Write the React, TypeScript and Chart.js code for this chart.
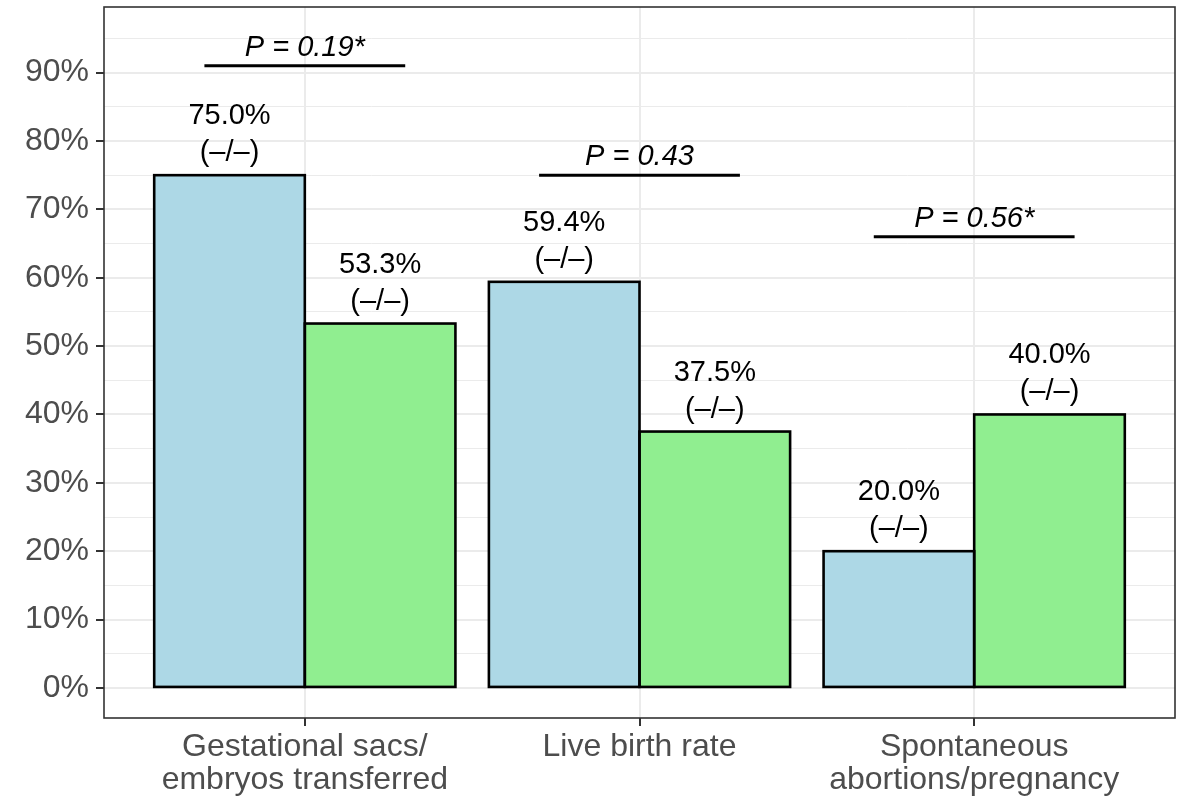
import React, { useEffect, useRef } from 'react';
import { Chart, registerables } from 'chart.js';

Chart.register(...registerables);

const categories: string[][] = [
  ['Gestational sacs/', 'embryos transferred'],
  ['Live birth rate'],
  ['Spontaneous', 'abortions/pregnancy'],
];
const categoryPositions = [1, 2, 3];
const group1Values = [75.0, 59.4, 20.0];
const group2Values = [53.3, 37.5, 40.0];
const countLabel = '(\u2013/\u2013)';
const pValueLabels = ['P = 0.19*', 'P = 0.43', 'P = 0.56*'];
const pValueHeights = [91, 75, 66];
const yTickValues = [0, 5, 10, 15, 20, 25, 30, 35, 40, 45, 50, 55, 60, 65, 70, 75, 80, 85, 90, 95];

const FONT = '"Liberation Sans", Arial, Helvetica, sans-serif';

const annotatePlugin = {
  id: 'annotate',
  afterDatasetsDraw(chart: any) {
    const ctx = chart.ctx as CanvasRenderingContext2D;
    const xs = chart.scales.x;
    const ys = chart.scales.y;
    ctx.save();
    // bar outlines and labels
    chart.data.datasets.forEach((ds: any, di: number) => {
      const meta = chart.getDatasetMeta(di);
      meta.data.forEach((bar: any, i: number) => {
        const p = bar.getProps(['x', 'y', 'base', 'width'], true);
        ctx.strokeStyle = '#000000';
        ctx.lineWidth = 2.6;
        ctx.lineJoin = 'miter';
        ctx.strokeRect(p.x - p.width / 2, p.y, p.width, p.base - p.y);
        ctx.fillStyle = '#000000';
        ctx.font = `29px ${FONT}`;
        ctx.textAlign = 'center';
        ctx.textBaseline = 'alphabetic';
        const v = ds.data[i].y as number;
        ctx.fillText(v.toFixed(1) + '%', p.x, p.y - 51);
        ctx.fillText(countLabel, p.x, p.y - 14);
      });
    });
    // p-value brackets
    pValueLabels.forEach((lab, i) => {
      const c = categoryPositions[i];
      const yy = ys.getPixelForValue(pValueHeights[i]);
      ctx.beginPath();
      ctx.moveTo(xs.getPixelForValue(c - 0.3), yy);
      ctx.lineTo(xs.getPixelForValue(c + 0.3), yy);
      ctx.strokeStyle = '#000000';
      ctx.lineWidth = 3;
      ctx.stroke();
      ctx.fillStyle = '#000000';
      ctx.font = `italic 29px ${FONT}`;
      ctx.textAlign = 'center';
      ctx.textBaseline = 'alphabetic';
      ctx.fillText(lab, xs.getPixelForValue(c), yy - 10);
    });
    // panel border
    const a = chart.chartArea;
    ctx.strokeStyle = '#333333';
    ctx.lineWidth = 1.6;
    ctx.strokeRect(a.left, a.top, a.right - a.left, a.bottom - a.top);
    ctx.restore();
  },
};

export default function App() {
  const canvasRef = useRef<HTMLCanvasElement | null>(null);

  useEffect(() => {
    if (!canvasRef.current) return;
    const chart = new Chart(canvasRef.current, {
      type: 'bar',
      data: {
        datasets: [
          {
            label: 'Group 1',
            data: categoryPositions.map((x, i) => ({ x, y: group1Values[i] })),
            backgroundColor: '#ADD8E6',
            borderWidth: 0,
          },
          {
            label: 'Group 2',
            data: categoryPositions.map((x, i) => ({ x, y: group2Values[i] })),
            backgroundColor: '#90EE90',
            borderWidth: 0,
          },
        ],
      },
      options: {
        responsive: false,
        animation: false,
        categoryPercentage: 0.9,
        barPercentage: 1.0,
        layout: { padding: { top: 7, right: 11, left: 0, bottom: 0 } },
        plugins: {
          legend: { display: false },
          tooltip: { enabled: false },
        },
        scales: {
          x: {
            type: 'linear',
            min: 0.4,
            max: 3.6,
            offset: false,
            afterBuildTicks: (s: any) => {
              s.ticks = categoryPositions.map((v) => ({ value: v }));
            },
            afterFit: (s: any) => {
              s.height = 85;
              s.paddingLeft = 0;
              s.paddingRight = 0;
            },
            border: { display: false },
            grid: {
              offset: false,
              color: '#EBEBEB',
              lineWidth: 2,
              drawTicks: true,
              tickLength: 8,
              tickColor: '#333333',
              tickWidth: 2,
            },
            ticks: {
              autoSkip: false,
              maxRotation: 0,
              minRotation: 0,
              padding: 4,
              color: '#4D4D4D',
              font: { family: FONT, size: 32, lineHeight: 1.05 },
              callback: (_v: any, index: number) => categories[index],
            },
          },
          y: {
            type: 'linear',
            min: -4.4,
            max: 99.6,
            afterBuildTicks: (s: any) => {
              s.ticks = yTickValues.map((v) => ({ value: v }));
            },
            afterFit: (s: any) => {
              s.width = 104;
              s.paddingTop = 0;
              s.paddingBottom = 0;
            },
            border: { display: false },
            grid: {
              color: '#EBEBEB',
              lineWidth: (c: any) => (c.tick && c.tick.value % 10 === 0 ? 2 : 1),
              drawTicks: true,
              tickLength: 8,
              tickColor: (c: any) => (c.tick && c.tick.value % 10 === 0 ? '#333333' : 'rgba(0,0,0,0)'),
              tickWidth: 2,
            },
            ticks: {
              autoSkip: false,
              padding: 7,
              color: '#4D4D4D',
              font: { family: FONT, size: 32 },
              callback: (v: any) => (Number(v) % 10 === 0 ? `${v}%` : ''),
            },
          },
        },
      },
      plugins: [annotatePlugin],
    } as any);
    return () => chart.destroy();
  }, []);

  return (
    <div style={{ position: 'absolute', left: 0, top: 0, width: 1186, height: 803, background: '#ffffff' }}>
      <canvas ref={canvasRef} width={1186} height={803} style={{ display: 'block' }} />
    </div>
  );
}
